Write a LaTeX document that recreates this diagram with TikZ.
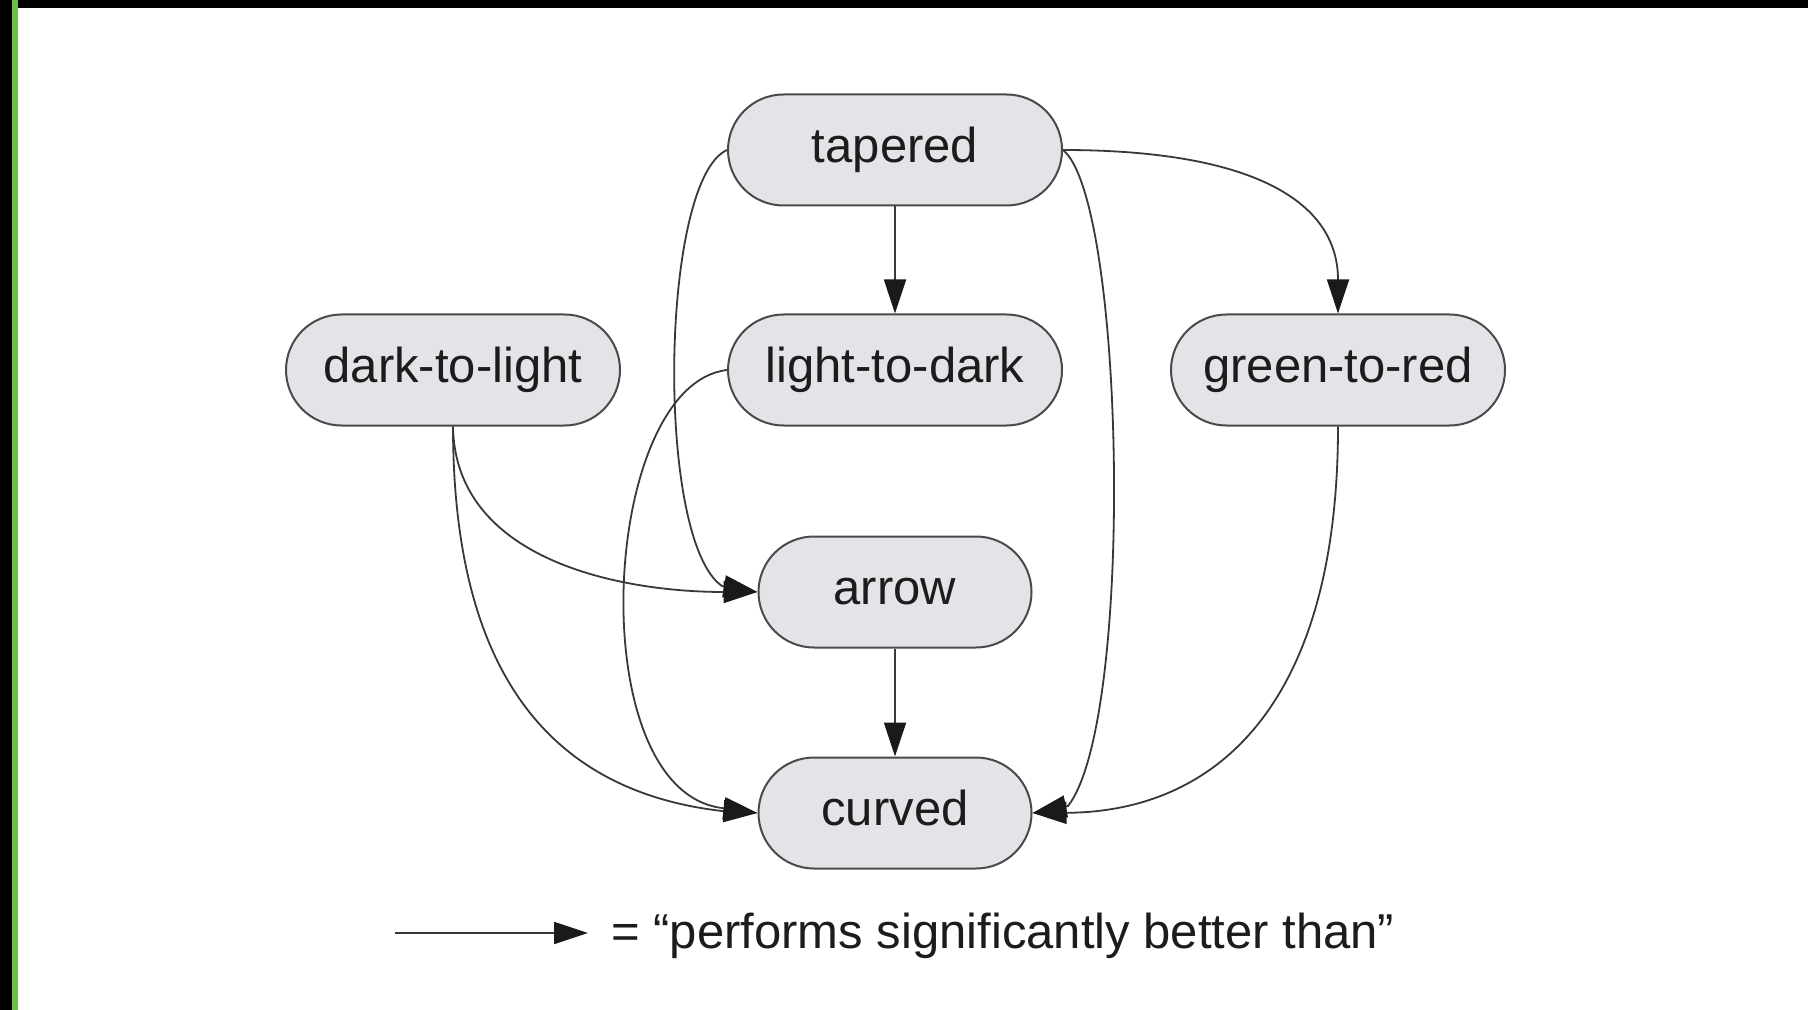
\documentclass[tikz,border=0pt]{standalone}
\usepackage{fontspec}
\setmainfont{Liberation Sans}
\usetikzlibrary{arrows.meta}
\definecolor{nodefill}{HTML}{E4E4E8}
\definecolor{nodeline}{HTML}{4A4A4A}
\definecolor{edgec}{HTML}{383838}
\definecolor{tipc}{HTML}{1A1A1A}
\definecolor{txtc}{HTML}{1C1C1C}
\definecolor{barg}{HTML}{6CBF3F}
\begin{document}
\begin{tikzpicture}[x=0.5pt,y=-0.5pt,
  statebox/.style={draw=nodeline, line width=1pt, fill=nodefill, rectangle,
    rounded corners=27.75pt, minimum height=55.5pt, inner sep=0pt, text=txtc,
    font=\fontsize{24.5}{29}\selectfont, text height=17.5pt, text depth=5.1pt},
  widebox/.style={statebox, minimum width=167pt},
  narrowbox/.style={statebox, minimum width=136.5pt},
  conn/.style={draw=edgec, line width=0.9pt,
    -{Triangle[length=17pt,width=11pt,color=tipc]}},
  legtext/.style={text=txtc, font=\fontsize{24.5}{29}\selectfont, inner sep=0pt},
]
\useasboundingbox (0,0) rectangle (1808,1010);
\fill[white] (0,0) rectangle (1808,1010);
% frame bars
\fill[black] (0,0) rectangle (1808,8);
\fill[black] (0,0) rectangle (12,1010);
\fill[barg] (12,0) rectangle (18,1010);

% nodes
\node[widebox] (tap) at (895,150) {tapered};
\node[widebox] (dtl) at (453,370) {dark-to-light};
\node[widebox] (ltd) at (895,370) {light-to-dark};
\node[widebox] (gtr) at (1338,370) {green-to-red};
\node[narrowbox] (arr) at (895,592) {arrow};
\node[narrowbox] (cur) at (895,813) {curved};

% arrowhead base points
\coordinate (ba) at (722,586);
\coordinate (bc) at (722,808);
\coordinate (bd) at (722,811);
\coordinate (be) at (1068,806);

% edges
\draw[conn] (tap.south) -- (ltd.north);
\draw[conn] (arr.south) -- (cur.north);
\draw[conn] (tap.east) .. controls (1250,150) and (1338,200) .. (gtr.north);
\draw[conn] (tap.west) .. controls (660,180) and (655,540) .. (ba) -- (arr.west);
\draw[conn] (tap.east) .. controls (1125,200) and (1135,720) .. (be) -- (cur.east);
\draw[conn] (dtl.south) .. controls (455,560) and (620,592) .. (arr.west);
\draw[conn] (dtl.south) .. controls (453,660) and (540,790) .. (bd) -- (cur.west);
\draw[conn] (ltd.west) .. controls (600,385) and (580,790) .. (bc) -- (cur.west);
\draw[conn] (gtr.south) .. controls (1338,700) and (1220,812) .. (cur.east);

% legend
\coordinate (lg1) at (395,933);
\coordinate (lg2) at (588,933);
\draw[conn] (lg1) -- (lg2);
\node[legtext, anchor=base west] (lgt) at (611,948) {= “performs significantly better than”};
\end{tikzpicture}
\end{document}
